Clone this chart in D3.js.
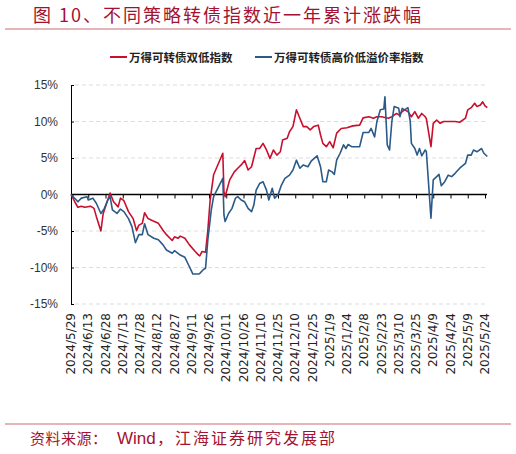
<!DOCTYPE html>
<html>
<head>
<meta charset="utf-8">
<script src="https://cdn.jsdelivr.net/npm/d3@7"></script>
<style>
  body { margin: 0; background: #fff; }
  svg { display: block; }
</style>
</head>
<body>
<svg width="516" height="454"></svg>
<script>
// data (cumulative return, %)
const seriesNames = ["万得可转债双低指数", "万得可转债高价低溢价率指数"];
const seriesColors = ["#c8102e", "#2b5a88"];

const tickLabels = [
  "2024/5/29", "2024/6/13", "2024/6/28", "2024/7/13", "2024/7/28", "2024/8/12",
  "2024/8/27", "2024/9/11", "2024/9/26", "2024/10/11", "2024/10/26", "2024/11/10",
  "2024/11/25", "2024/12/10", "2024/12/25", "2025/1/9", "2025/1/24", "2025/2/8",
  "2025/2/23", "2025/3/10", "2025/3/25", "2025/4/9", "2025/4/24", "2025/5/9", "2025/5/24"
];
const yTicks = [-15, -10, -5, 0, 5, 10, 15];

const doubleLow = [
  ["2024-05-29", 0], ["2024-06-02", -1.2], ["2024-06-04", -1.75], ["2024-06-07", -1.6],
  ["2024-06-10", -1.75], ["2024-06-15", -1.6], ["2024-06-18", -1.9], ["2024-06-20", -3.0],
  ["2024-06-24", -5.0], ["2024-06-26", -2.6], ["2024-06-29", -1.2], ["2024-07-02", 0.2],
  ["2024-07-05", -1.0], ["2024-07-09", -1.7], ["2024-07-11", -0.5], ["2024-07-14", -0.85],
  ["2024-07-18", -2.35], ["2024-07-22", -3.3], ["2024-07-25", -4.95], ["2024-07-27", -4.2],
  ["2024-07-30", -3.95], ["2024-08-01", -2.5], ["2024-08-04", -3.3], ["2024-08-08", -3.6],
  ["2024-08-13", -3.95], ["2024-08-17", -4.9], ["2024-08-20", -5.5], ["2024-08-25", -6.3],
  ["2024-08-27", -5.8], ["2024-08-30", -6.0], ["2024-09-01", -5.7], ["2024-09-05", -6.0],
  ["2024-09-09", -6.9], ["2024-09-14", -7.8], ["2024-09-17", -8.3], ["2024-09-18", -8.4],
  ["2024-09-20", -7.8], ["2024-09-23", -7.9], ["2024-09-25", -4.9], ["2024-09-27", -0.75],
  ["2024-09-30", 2.7], ["2024-10-08", 5.65], ["2024-10-09", 0.4], ["2024-10-10", -0.3],
  ["2024-10-14", 2.0], ["2024-10-18", 3.1], ["2024-10-21", 3.6], ["2024-10-24", 4.05],
  ["2024-10-27", 4.65], ["2024-10-30", 3.35], ["2024-11-02", 3.8], ["2024-11-06", 6.3],
  ["2024-11-09", 6.3], ["2024-11-12", 7.0], ["2024-11-15", 6.1], ["2024-11-18", 4.95],
  ["2024-11-21", 6.1], ["2024-11-24", 5.4], ["2024-11-27", 5.85], ["2024-11-29", 7.45],
  ["2024-12-03", 7.7], ["2024-12-05", 8.6], ["2024-12-08", 9.3], ["2024-12-11", 11.6],
  ["2024-12-14", 10.45], ["2024-12-17", 9.3], ["2024-12-20", 9.3], ["2024-12-23", 8.85],
  ["2024-12-26", 9.3], ["2024-12-30", 9.5], ["2025-01-01", 8.15], ["2025-01-03", 7.0],
  ["2025-01-06", 6.55], ["2025-01-09", 7.25], ["2025-01-12", 6.4], ["2025-01-15", 8.4],
  ["2025-01-19", 9.05], ["2025-01-24", 9.15], ["2025-01-29", 9.4], ["2025-02-04", 9.5],
  ["2025-02-07", 10.5], ["2025-02-12", 10.65], ["2025-02-16", 10.45], ["2025-02-19", 10.65],
  ["2025-02-23", 10.65], ["2025-03-01", 10.45], ["2025-03-04", 10.65], ["2025-03-08", 11.1],
  ["2025-03-10", 10.9], ["2025-03-13", 11.35], ["2025-03-15", 11.6], ["2025-03-18", 11.35],
  ["2025-03-21", 10.65], ["2025-03-24", 11.35], ["2025-03-27", 10.45], ["2025-03-30", 11.1],
  ["2025-04-02", 10.65], ["2025-04-03", 10.4], ["2025-04-07", 6.55], ["2025-04-09", 9.75],
  ["2025-04-12", 10.2], ["2025-04-15", 9.75], ["2025-04-18", 10.0], ["2025-04-22", 10.0],
  ["2025-04-28", 10.0], ["2025-05-02", 9.9], ["2025-05-07", 10.45], ["2025-05-09", 11.6],
  ["2025-05-12", 11.9], ["2025-05-15", 12.5], ["2025-05-17", 12.05], ["2025-05-20", 12.25],
  ["2025-05-22", 12.7], ["2025-05-24", 12.15], ["2025-05-26", 11.9]
];

const highPrice = [
  ["2024-05-29", 0], ["2024-06-02", -0.65], ["2024-06-04", -1.0], ["2024-06-07", -0.5],
  ["2024-06-12", -0.3], ["2024-06-13", -0.75], ["2024-06-17", -0.5], ["2024-06-20", -1.2],
  ["2024-06-24", -2.6], ["2024-06-27", -1.9], ["2024-06-30", -0.75], ["2024-07-02", -0.3],
  ["2024-07-04", -2.1], ["2024-07-08", -2.6], ["2024-07-11", -2.0], ["2024-07-14", -2.35],
  ["2024-07-18", -3.3], ["2024-07-21", -4.4], ["2024-07-24", -6.6], ["2024-07-27", -5.5],
  ["2024-07-30", -5.5], ["2024-08-01", -4.0], ["2024-08-04", -5.5], ["2024-08-09", -6.0],
  ["2024-08-13", -6.2], ["2024-08-17", -6.9], ["2024-08-20", -7.6], ["2024-08-25", -8.05],
  ["2024-08-27", -7.7], ["2024-09-01", -8.3], ["2024-09-05", -8.6], ["2024-09-09", -9.9],
  ["2024-09-12", -10.9], ["2024-09-17", -10.9], ["2024-09-18", -10.8], ["2024-09-21", -10.3],
  ["2024-09-23", -10.1], ["2024-09-25", -6.2], ["2024-09-28", -2.1], ["2024-09-30", -0.3],
  ["2024-10-08", 2.2], ["2024-10-09", -2.8], ["2024-10-10", -3.7], ["2024-10-13", -2.6],
  ["2024-10-16", -1.9], ["2024-10-19", -0.5], ["2024-10-21", -0.3], ["2024-10-24", -0.75],
  ["2024-10-27", -1.0], ["2024-10-30", -1.9], ["2024-11-02", -2.35], ["2024-11-04", -1.45],
  ["2024-11-06", 0.6], ["2024-11-09", 1.5], ["2024-11-12", 1.75], ["2024-11-15", 0.6],
  ["2024-11-17", -0.75], ["2024-11-20", 0.85], ["2024-11-22", -0.5], ["2024-11-25", -0.05],
  ["2024-11-28", 1.3], ["2024-12-01", 2.2], ["2024-12-05", 2.65], ["2024-12-08", 3.35],
  ["2024-12-11", 4.7], ["2024-12-14", 3.6], ["2024-12-17", 4.05], ["2024-12-21", 3.8],
  ["2024-12-24", 4.6], ["2024-12-29", 5.3], ["2025-01-01", 3.8], ["2025-01-03", 1.75],
  ["2025-01-06", 1.75], ["2025-01-08", 3.35], ["2025-01-11", 3.1], ["2025-01-13", 2.75],
  ["2025-01-15", 4.7], ["2025-01-18", 5.65], ["2025-01-21", 6.8], ["2025-01-23", 6.3],
  ["2025-01-25", 6.85], ["2025-01-28", 6.55], ["2025-02-04", 6.55], ["2025-02-07", 8.5],
  ["2025-02-12", 8.5], ["2025-02-14", 9.05], ["2025-02-17", 7.9], ["2025-02-19", 10.0],
  ["2025-02-22", 11.6], ["2025-02-25", 11.7], ["2025-02-26", 13.4], ["2025-02-28", 6.8],
  ["2025-03-02", 6.1], ["2025-03-04", 10.0], ["2025-03-06", 12.05], ["2025-03-10", 11.8],
  ["2025-03-11", 10.65], ["2025-03-13", 11.8], ["2025-03-15", 11.6], ["2025-03-18", 11.9],
  ["2025-03-20", 10.0], ["2025-03-21", 7.0], ["2025-03-24", 6.3], ["2025-03-26", 5.4],
  ["2025-03-28", 6.3], ["2025-03-30", 5.3], ["2025-04-02", 6.1], ["2025-04-03", 5.9],
  ["2025-04-07", -3.25], ["2025-04-09", 2.0], ["2025-04-12", 2.45], ["2025-04-14", 2.75],
  ["2025-04-16", 1.2], ["2025-04-19", 1.75], ["2025-04-22", 2.65], ["2025-04-25", 2.45],
  ["2025-04-28", 2.9], ["2025-05-02", 3.6], ["2025-05-07", 4.25], ["2025-05-09", 5.4],
  ["2025-05-12", 5.4], ["2025-05-14", 6.1], ["2025-05-17", 5.85], ["2025-05-21", 6.3],
  ["2025-05-23", 5.65], ["2025-05-26", 5.2]
];

const svg = d3.select("svg");
const width = +svg.attr("width");

const parseDay = d3.timeParse("%Y-%m-%d");
const parseTick = d3.timeParse("%Y/%m/%d");
const tickDates = tickLabels.map(parseTick);

const plot = { left: 71, right: 485, top: 85, bottom: 304 };

const x = d3.scaleTime()
  .domain([tickDates[0], tickDates[tickDates.length - 1]])
  .range([plot.left, plot.right]);

const y = d3.scaleLinear()
  .domain([-15, 15])
  .range([plot.bottom, plot.top]);

const crimson = "#a3122f";

// title
svg.append("text")
  .attr("x", 33)
  .attr("y", 22)
  .attr("fill", crimson)
  .style("font-family", "'Noto Sans CJK SC', sans-serif")
  .style("font-size", "18px")
  .style("letter-spacing", "2px")
  .text("图 10、不同策略转债指数近一年累计涨跌幅");

svg.append("line")
  .attr("x1", 5).attr("x2", width - 5)
  .attr("y1", 29).attr("y2", 29)
  .attr("stroke", "#dc9c9f")
  .attr("stroke-width", 1.5);

// legend
const legendX = [110, 255];
seriesNames.forEach((name, i) => {
  const lg = svg.append("g").attr("transform", `translate(${legendX[i]},57)`);
  lg.append("line")
    .attr("x1", 0).attr("x2", 17)
    .attr("y1", 0).attr("y2", 0)
    .attr("stroke", seriesColors[i])
    .attr("stroke-width", 2);
  lg.append("text")
    .attr("x", 19)
    .attr("y", 4.5)
    .attr("fill", "#222")
    .style("font-family", "'Noto Sans CJK SC', sans-serif")
    .style("font-size", "11.5px")
    .style("font-weight", "bold")
    .text(name);
});

// grid
svg.append("g")
  .selectAll("line")
  .data(yTicks.filter(d => d !== 0))
  .enter()
  .append("line")
  .attr("x1", plot.left + 4)
  .attr("x2", plot.right + 2)
  .attr("y1", d => y(d))
  .attr("y2", d => y(d))
  .attr("stroke", "#dddddd")
  .attr("stroke-dasharray", "4,3");

// y axis
const yAxis = svg.append("g")
  .attr("transform", `translate(${plot.left},0)`)
  .call(d3.axisLeft(y).tickValues(yTicks).tickSize(-3).tickPadding(13).tickFormat(d => d + "%"));
yAxis.select(".domain").attr("stroke", "#000");
yAxis.selectAll(".tick line").attr("stroke", "#000");
yAxis.selectAll("text")
  .attr("fill", "#333")
  .style("font-family", "'Liberation Sans Narrow', 'Liberation Sans', sans-serif")
  .style("font-size", "12px");

// zero line with ticks
const xAxis = svg.append("g")
  .attr("transform", `translate(0,${y(0)})`)
  .call(d3.axisBottom(x).tickValues(tickDates).tickSize(4).tickFormat(""));
xAxis.select(".domain").attr("d", `M${plot.left},0H${plot.right + 2}`).attr("stroke", "#000").attr("stroke-width", 1.3);
xAxis.selectAll(".tick line").attr("stroke", "#000");

// rotated date labels under the plot
svg.append("g")
  .selectAll("text")
  .data(tickLabels)
  .enter()
  .append("text")
  .attr("transform", (d, i) => `translate(${x(tickDates[i]) + 4},313) rotate(-90)`)
  .attr("text-anchor", "end")
  .attr("fill", "#222")
  .style("font-family", "'DejaVu Sans', sans-serif")
  .style("font-size", "12px")
  .text(d => d);

// lines
const line = d3.line()
  .x(d => x(parseDay(d[0])))
  .y(d => y(d[1]));

[doubleLow, highPrice].forEach((s, i) => {
  svg.append("path")
    .datum(s)
    .attr("fill", "none")
    .attr("stroke", seriesColors[i])
    .attr("stroke-width", 1.6)
    .attr("stroke-linejoin", "round")
    .attr("d", line);
});

// footer
svg.append("line")
  .attr("x1", 5).attr("x2", width - 5)
  .attr("y1", 424).attr("y2", 424)
  .attr("stroke", "#dc9c9f")
  .attr("stroke-width", 1.5);

const src = svg.append("text")
  .attr("y", 444)
  .attr("fill", crimson)
  .style("font-family", "'Noto Sans CJK SC', sans-serif");
src.append("tspan")
  .attr("x", 30)
  .style("font-size", "15px")
  .style("letter-spacing", "0.5px")
  .text("资料来源：");
src.append("tspan")
  .attr("x", 117)
  .style("font-family", "'Liberation Sans', sans-serif")
  .style("font-size", "17px")
  .text("Wind");
src.append("tspan")
  .attr("x", 157)
  .style("font-size", "16px")
  .style("letter-spacing", "2px")
  .text("，江海证券研究发展部");
</script>
</body>
</html>
